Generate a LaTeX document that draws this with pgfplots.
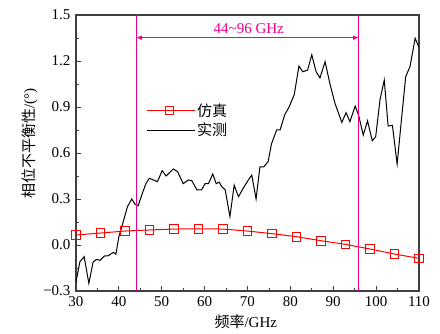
\documentclass[border=0pt]{standalone}
\usepackage{fontspec}
\setmainfont{Liberation Serif}
\newfontfamily\cjk{Noto Sans CJK SC}
\usepackage{pgfplots}
\pgfplotsset{compat=1.18}
\pgfplotstableread{
x y
30.0 -0.24
30.9 -0.11
31.9 -0.076
33.0 -0.25
34.0 -0.11
34.8 -0.094
35.6 -0.10
36.6 -0.072
37.5 -0.07
38.7 -0.048
39.3 -0.06
40.0 0.054
41.0 0.15
42.0 0.25
43.0 0.30
43.8 0.265
44.5 0.256
45.2 0.315
46.3 0.40
47.1 0.435
49.0 0.413
50.1 0.485
51.0 0.45
52.7 0.496
53.7 0.478
55.0 0.40
56.2 0.424
57.0 0.42
58.2 0.36
59.3 0.36
60.1 0.40
60.9 0.40
61.9 0.463
62.7 0.40
63.4 0.41
64.0 0.38
64.8 0.36
65.9 0.185
66.9 0.39
67.9 0.315
69.0 0.37
70.2 0.424
71.0 0.456
72.0 0.30
72.9 0.51
73.8 0.51
74.8 0.543
75.6 0.66
76.8 0.75
77.6 0.75
78.7 0.85
79.7 0.90
80.9 0.98
82.0 1.167
82.9 1.13
84.0 1.14
85.0 1.24
86.0 1.13
86.9 1.09
88.1 1.195
89.2 1.055
90.4 0.924
92.0 0.80
93.0 0.863
93.9 0.804
95.1 0.906
95.9 0.848
97.0 0.717
98.0 0.81
99.1 0.68
99.9 0.706
100.9 0.946
101.9 1.076
102.8 0.776
103.8 0.78
104.9 0.528
105.9 0.815
106.9 1.098
107.9 1.163
109.1 1.348
110.0 1.29
}\meas
\pgfplotstableread{
x y
30.0 0.065
35.71 0.078
41.43 0.091
47.14 0.098
52.86 0.104
58.57 0.106
64.29 0.104
70.0 0.091
75.71 0.074
81.43 0.054
87.14 0.028
92.86 0.004
98.57 -0.026
104.29 -0.059
110.0 -0.087
}\simu
\begin{document}
\begin{tikzpicture}
\path[use as bounding box] (-76pt,-43pt) rectangle (364pt,291pt);
\begin{axis}[
  at={(0,0)}, anchor=south west,
  scale only axis, width=343pt, height=276pt,
  xmin=30, xmax=110, ymin=-0.3, ymax=1.5,
  xtick={30,40,...,110},
  ytick={-0.3,0,0.3,0.6,0.9,1.2,1.5},
  yticklabels={−0.3,0.0,0.3,0.6,0.9,1.2,1.5},
  minor x tick num=1, minor y tick num=1,
  tick align=inside,
  xtick pos=bottom, ytick pos=left,
  major tick length=5pt, minor tick length=3pt,
  axis line style={line width=1.1pt, black!75},
  every tick/.style={black!75, line width=0.8pt},
  /pgf/number format/assume math mode=true,
  tick label style={font=\fontsize{15}{17}\selectfont},
  xticklabel style={yshift=-1.5pt},
  yticklabel style={xshift=-2pt},
  xlabel={{\cjk 频率}/GHz},
  ylabel={{\cjk 相位不平衡性}/(°)},
  label style={font=\fontsize{15}{17}\selectfont},
  xlabel style={at={(axis description cs:0.495,-0.112)}, anchor=center},
  ylabel style={at={(axis description cs:-0.135,0.533)}, anchor=center},
  legend style={draw=none, fill=none, at={(axis cs:45.6,0.95)}, anchor=north west,
    font=\fontsize{15}{17}\selectfont, row sep=1.5pt},
  legend cell align=left,
]
\addplot[color=red, line width=1pt, mark=square, mark size=4.3pt, mark options={line width=1pt, draw=red},
  legend image code/.code={
    \draw[red, line width=1.1pt] (0pt,0pt) -- (48pt,0pt);
    \draw[red, line width=1pt, mark=square, mark size=4.3pt, only marks] plot coordinates {(23pt,0pt)};
  }] table {\simu};
\addlegendentry{\cjk 仿真}
\addplot[black, line width=1pt,
  legend image code/.code={
    \draw[black, line width=1pt] (0pt,0pt) -- (48pt,0pt);
  }] table {\meas};
\addlegendentry{\cjk 实测}
\addplot[magenta, line width=1pt, forget plot] coordinates {(44,-0.3) (44,1.5)};
\addplot[magenta, line width=1pt, forget plot] coordinates {(96,-0.3) (96,1.5)};
\draw[magenta, line width=1pt, <->, >=latex] (axis cs:44,1.352) -- (axis cs:96,1.352);
\node[text=magenta, font=\fontsize{15}{17}\selectfont] at (axis cs:70.3,1.413) {44\textasciitilde 96 GHz};
\end{axis}
\end{tikzpicture}
\end{document}
